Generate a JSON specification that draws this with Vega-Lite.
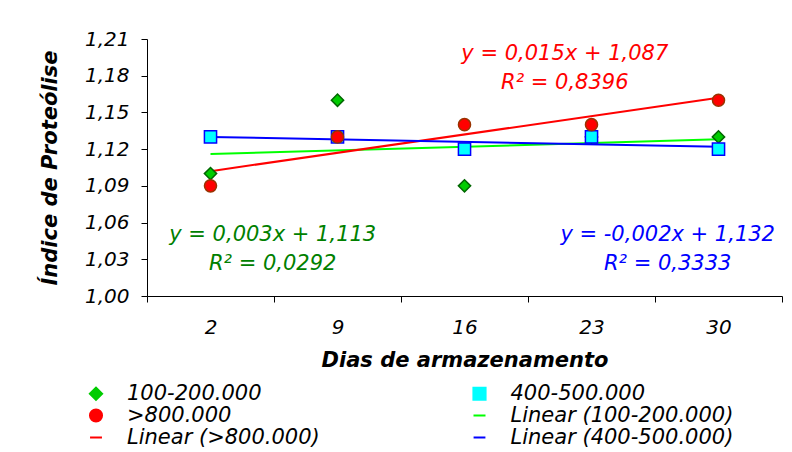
{
  "$schema": "https://vega.github.io/schema/vega-lite/v6.json",
  "width": 635,
  "height": 257,
  "autosize": {"type": "none"},
  "padding": {"left": 147, "top": 39, "right": 10, "bottom": 156},
  "background": "white",
  "config": {
    "locale": {"number": {"decimal": ",", "thousands": ".", "grouping": [3], "currency": ["", ""]}},
    "view": {"stroke": null},
    "font": "DejaVu Sans"
  },
  "datasets": {
    "pontos": [
      {"serie": "100-200.000", "i": 1, "dia": 2, "indice": 1.10},
      {"serie": "100-200.000", "i": 2, "dia": 9, "indice": 1.16},
      {"serie": "100-200.000", "i": 3, "dia": 16, "indice": 1.09},
      {"serie": "100-200.000", "i": 4, "dia": 23, "indice": 1.13},
      {"serie": "100-200.000", "i": 5, "dia": 30, "indice": 1.13},
      {"serie": "400-500.000", "i": 1, "dia": 2, "indice": 1.13},
      {"serie": "400-500.000", "i": 2, "dia": 9, "indice": 1.13},
      {"serie": "400-500.000", "i": 3, "dia": 16, "indice": 1.12},
      {"serie": "400-500.000", "i": 4, "dia": 23, "indice": 1.13},
      {"serie": "400-500.000", "i": 5, "dia": 30, "indice": 1.12},
      {"serie": ">800.000", "i": 1, "dia": 2, "indice": 1.09},
      {"serie": ">800.000", "i": 2, "dia": 9, "indice": 1.13},
      {"serie": ">800.000", "i": 3, "dia": 16, "indice": 1.14},
      {"serie": ">800.000", "i": 4, "dia": 23, "indice": 1.14},
      {"serie": ">800.000", "i": 5, "dia": 30, "indice": 1.16}
    ],
    "tendencia": [
      {"serie": "Linear (100-200.000)", "i": 1, "indice": 1.116},
      {"serie": "Linear (100-200.000)", "i": 5, "indice": 1.128},
      {"serie": "Linear (>800.000)", "i": 1, "indice": 1.102},
      {"serie": "Linear (>800.000)", "i": 5, "indice": 1.162},
      {"serie": "Linear (400-500.000)", "i": 1, "indice": 1.130},
      {"serie": "Linear (400-500.000)", "i": 5, "indice": 1.122}
    ],
    "equacoes": [
      {"serie": "Linear (>800.000)", "i": 3.79, "indice": 1.1977, "texto": "y = 0,015x + 1,087"},
      {"serie": "Linear (>800.000)", "i": 3.79, "indice": 1.174, "texto": "R² = 0,8396"},
      {"serie": "Linear (100-200.000)", "i": 1.49, "indice": 1.0498, "texto": "y = 0,003x + 1,113"},
      {"serie": "Linear (100-200.000)", "i": 1.49, "indice": 1.0261, "texto": "R² = 0,0292"},
      {"serie": "Linear (400-500.000)", "i": 4.6, "indice": 1.0498, "texto": "y = -0,002x + 1,132"},
      {"serie": "Linear (400-500.000)", "i": 4.6, "indice": 1.0261, "texto": "R² = 0,3333"}
    ]
  },
  "encoding": {
    "x": {
      "field": "i", "type": "quantitative",
      "scale": {"domain": [0.5, 5.5], "nice": false, "zero": false},
      "axis": {
        "values": [0.5, 1.5, 2.5, 3.5, 4.5, 5.5],
        "labelExpr": "datum.value < 1 ? '2' : datum.value < 2 ? '9' : datum.value < 3 ? '16' : datum.value < 4 ? '23' : datum.value < 5 ? '30' : ''",
        "labelOffset": 63.5,
        "labelFlush": false,
        "labelOverlap": false,
        "grid": false,
        "domainColor": "black",
        "tickColor": "black",
        "tickSize": 6,
        "labelFont": "DejaVu Sans",
        "labelFontStyle": "italic",
        "labelFontSize": 20,
        "labelColor": "black",
        "labelPadding": 15,
        "title": "Dias de armazenamento",
        "titleFont": "DejaVu Sans",
        "titleFontStyle": "italic",
        "titleFontWeight": "bold",
        "titleFontSize": 21,
        "titleColor": "black",
        "titlePadding": 12
      }
    },
    "y": {
      "field": "indice", "type": "quantitative",
      "scale": {"domain": [1.0, 1.21], "nice": false, "zero": false},
      "axis": {
        "values": [1.0, 1.03, 1.06, 1.09, 1.12, 1.15, 1.18, 1.21],
        "format": ".2f",
        "labelOverlap": false,
        "labelFlush": false,
        "grid": false,
        "domainColor": "black",
        "tickColor": "black",
        "tickSize": 6,
        "labelFont": "DejaVu Sans",
        "labelFontStyle": "italic",
        "labelFontSize": 20,
        "labelColor": "black",
        "labelPadding": 12,
        "title": "Índice de Proteólise",
        "titleFont": "DejaVu Sans",
        "titleFontStyle": "italic",
        "titleFontWeight": "bold",
        "titleFontSize": 21,
        "titleColor": "black",
        "titlePadding": 24
      }
    }
  },
  "layer": [
    {
      "data": {"name": "tendencia"},
      "mark": {"type": "line", "strokeWidth": 2},
      "encoding": {
        "color": {
          "field": "serie", "type": "nominal",
          "scale": {
            "domain": ["100-200.000", "400-500.000", ">800.000", "Linear (100-200.000)", "Linear (>800.000)", "Linear (400-500.000)"],
            "range": ["#00CC00", "#00FFFF", "#FF0000", "#00FF00", "#FF0000", "#0000FF"]
          },
          "legend": {
            "orient": "none",
            "legendX": -61.5,
            "legendY": 344,
            "columns": 2,
            "direction": "horizontal",
            "title": null,
            "padding": 0,
            "symbolSize": 441,
            "labelOffset": 20.5,
            "columnPadding": 148.5,
            "rowPadding": 0,
            "symbolStrokeWidth": 2,
            "symbolOpacity": 1,
            "labelFont": "DejaVu Sans",
            "labelFontStyle": "italic",
            "labelFontSize": 21,
            "labelColor": "black",
            "labelLimit": 400
          }
        }
      }
    },
    {
      "data": {"name": "pontos"},
      "mark": {"type": "point", "filled": true, "strokeWidth": 1.5, "opacity": 1},
      "encoding": {
        "color": {"field": "serie", "type": "nominal"},
        "stroke": {
          "field": "serie", "type": "nominal",
          "scale": {
            "domain": ["100-200.000", "400-500.000", ">800.000", "Linear (100-200.000)", "Linear (>800.000)", "Linear (400-500.000)"],
            "range": ["#006600", "#0000FF", "#993300", "#00FF00", "#FF0000", "#0000FF"]
          },
          "legend": null
        },
        "shape": {
          "field": "serie", "type": "nominal",
          "scale": {
            "domain": ["100-200.000", "400-500.000", ">800.000", "Linear (100-200.000)", "Linear (>800.000)", "Linear (400-500.000)"],
            "range": ["diamond", "square", "circle", "stroke", "stroke", "stroke"]
          }
        },
        "size": {
          "field": "serie", "type": "nominal",
          "scale": {
            "domain": ["100-200.000", "400-500.000", ">800.000", "Linear (100-200.000)", "Linear (>800.000)", "Linear (400-500.000)"],
            "range": [150, 140, 170, 2304, 2304, 2304]
          },
          "legend": null
        }
      }
    },
    {
      "data": {"name": "equacoes"},
      "mark": {"type": "text", "font": "DejaVu Sans", "fontSize": 21, "fontStyle": "italic", "align": "center", "baseline": "middle"},
      "encoding": {
        "text": {"field": "texto"},
        "fill": {
          "field": "serie", "type": "nominal",
          "scale": {"domain": ["Linear (100-200.000)", "Linear (>800.000)", "Linear (400-500.000)"], "range": ["#008000", "#FF0000", "#0000FF"]},
          "legend": null
        }
      }
    }
  ]
}
